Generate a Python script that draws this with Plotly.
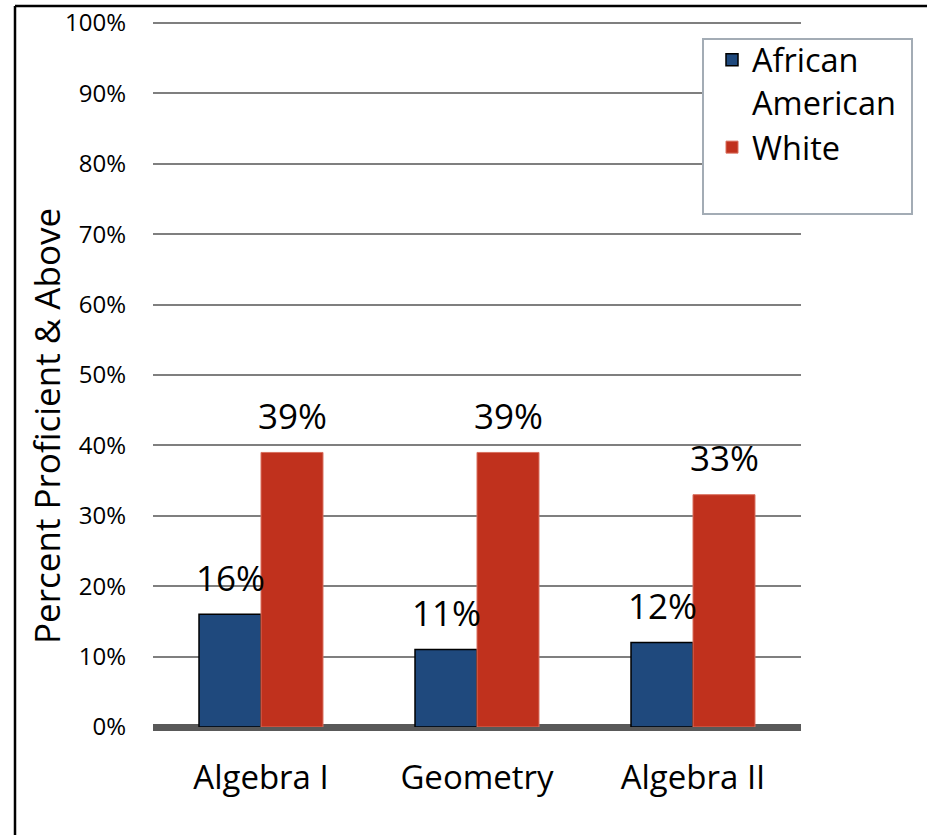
import plotly.graph_objects as go

categories = ["Algebra I", "Geometry", "Algebra II"]
african_american = [16, 11, 12]
white = [39, 39, 33]
y_ticks = [0, 10, 20, 30, 40, 50, 60, 70, 80, 90, 100]
y_tick_labels = [f"{v}%" for v in y_ticks]

FONT = "Open Sans"
BLUE = "#1F497D"
RED = "#C0311D"

W, H = 927, 835
L, R, T, B = 153, 801, 19, 727  # plot area in px
Y_MAX = (B - T) / 7.04  # 100% sits at y=23 px


def px_x(px):
    return (px - L) / (R - L)


def px_y(py):
    return (B - py) / (B - T)


fig = go.Figure()
fig.add_trace(go.Bar(
    x=categories, y=african_american, name="African<br>American",
    marker=dict(color=BLUE, line=dict(color="black", width=1.5)),
))
fig.add_trace(go.Bar(
    x=categories, y=white, name="White",
    marker=dict(color=RED, line=dict(color="#D9705F", width=1)),
))

# data labels
annotations = []
for i, c in enumerate(categories):
    for vals, shift in ((african_american, -31), (white, 31)):
        annotations.append(dict(
            x=c, y=vals[i], xref="x", yref="y", text=f"{vals[i]}%",
            showarrow=False, xshift=shift, yshift=37, yanchor="middle",
            font=dict(family=FONT, size=35, color="black"),
        ))

# y-axis title
annotations.append(dict(
    x=px_x(47), y=px_y(426), xref="paper", yref="paper",
    text="Percent Proficient & Above", textangle=-90, showarrow=False,
    xanchor="center", yanchor="middle",
    font=dict(family=FONT, size=35, color="black"),
))

shapes = [
    # legend box
    dict(type="rect", xref="paper", yref="paper",
         x0=px_x(703), x1=px_x(912), y0=px_y(214), y1=px_y(39),
         fillcolor="white", line=dict(color="#A3ACB5", width=2), layer="above"),
    # outer frame (top and left)
    dict(type="line", xref="paper", yref="paper",
         x0=px_x(15), x1=px_x(930), y0=px_y(6), y1=px_y(6),
         line=dict(color="black", width=2.5)),
    dict(type="line", xref="paper", yref="paper",
         x0=px_x(15), x1=px_x(15), y0=px_y(6), y1=px_y(840),
         line=dict(color="black", width=2.5)),
]

fig.update_layout(
    width=W, height=H,
    margin=dict(l=L, r=W - R, t=T, b=H - B, pad=0, autoexpand=False),
    paper_bgcolor="white", plot_bgcolor="white",
    barmode="group", bargap=0.426, bargroupgap=0,
    font=dict(family=FONT, color="black"),
    showlegend=True,
    legend=dict(
        x=px_x(712), y=px_y(32), xanchor="left", yanchor="top",
        bgcolor="rgba(0,0,0,0)", borderwidth=0, valign="top",
        font=dict(family=FONT, size=32.5, color="black"),
        traceorder="normal", tracegroupgap=0,
    ),
    annotations=annotations,
    shapes=shapes,
)
fig.update_yaxes(
    range=[0, Y_MAX], tickvals=y_ticks, ticktext=y_tick_labels,
    showgrid=True, gridcolor="#7F7F7F", gridwidth=2,
    zeroline=True, zerolinecolor="#595959", zerolinewidth=7,
    showline=False, ticks="", ticklabelstandoff=26, automargin=False,
    tickfont=dict(family=FONT, size=24, color="black"),
)
fig.update_xaxes(
    showline=False, ticks="", ticklabelstandoff=28, automargin=False,
    tickfont=dict(family=FONT, size=33, color="black"),
)

fig.write_html("out.html")
